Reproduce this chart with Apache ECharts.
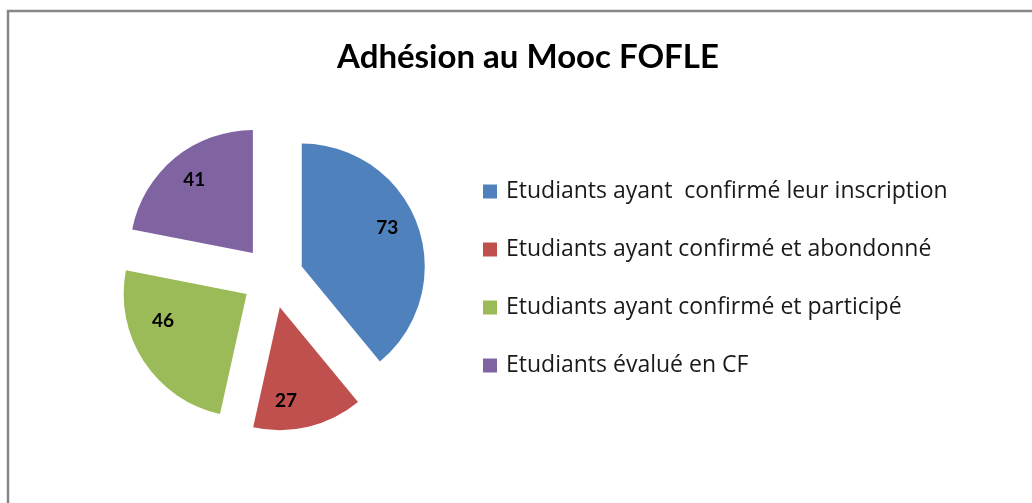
<!DOCTYPE html>
<html>
<head>
<meta charset="utf-8">
<style>
  html, body { margin: 0; padding: 0; background: #ffffff; }
  #chart { width: 1032px; height: 503px; }
</style>
<script src="https://cdn.jsdelivr.net/npm/echarts@6/dist/echarts.min.js"></script>
</head>
<body>
<div id="chart"></div>
<script>
// Participation breakdown for the MOOC
const titleText = 'Adhésion au Mooc FOFLE';
const categories = [
  'Etudiants ayant  confirmé leur inscription',
  'Etudiants ayant confirmé et abondonné',
  'Etudiants ayant confirmé et participé',
  'Etudiants évalué en CF'
];
const values = [73, 27, 46, 41];
const colors = ['#4F81BD', '#C0504D', '#9BBB59', '#8064A2'];

// Layout settings for the exploded pie
const pieCenter = [272.6, 277];
const pieRadius = 123;
const explode = 31;
// Label placement per slice: fraction of the radius, and a small angular nudge (degrees)
const labelRadiusFrac = [0.74, 0.74, 0.69, 0.74];
const labelAngleNudge = [-5, 10, 16, 1];

const total = values.reduce((a, b) => a + b, 0);
let acc = 0;
const seriesData = values.map((v, i) => {
  const start = acc / total * 360;
  acc += v;
  const mid = (start + acc / total * 360) / 2;
  // An inside label sits at half the radius on the bisector; shift the text
  // from there: sideways with padding, up/down with blank extra lines
  const a0 = mid * Math.PI / 180;
  const a1 = (mid + labelAngleNudge[i]) * Math.PI / 180;
  const tr = pieRadius * labelRadiusFrac[i];
  const br = pieRadius / 2;
  const dx = tr * Math.sin(a1) - br * Math.sin(a0);
  const dy = -tr * Math.cos(a1) + br * Math.cos(a0);
  const k = Math.max(1, Math.ceil(2 * Math.abs(dy) / 20));
  const lh = 2 * Math.abs(dy) / k;
  const blank = new Array(k).fill(' ').join('\n');
  return {
    name: categories[i],
    value: v,
    selected: true,
    itemStyle: { color: colors[i] },
    label: {
      padding: [0, dx < 0 ? -2 * dx : 0, 0, dx > 0 ? 2 * dx : 0],
      lineHeight: lh,
      formatter: dy < 0 ? '{c}\n' + blank : blank + '\n{c}'
    }
  };
});

const chart = echarts.init(document.getElementById('chart'), null, { renderer: 'canvas' });
chart.setOption({
  animation: false,
  backgroundColor: '#ffffff',
  graphic: [{
    type: 'rect',
    shape: { x: 8, y: 11, width: 1200, height: 700 },
    style: { fill: 'none', stroke: '#878787', lineWidth: 2.5 },
    silent: true,
    z: 0
  }],
  title: {
    text: titleText,
    left: 523,
    textAlign: 'center',
    top: 36,
    textStyle: {
      fontFamily: 'Lato',
      fontWeight: 'bold',
      fontSize: 33,
      color: '#000000'
    }
  },
  legend: {
    orient: 'vertical',
    left: 483,
    top: 180,
    padding: 0,
    itemWidth: 14,
    itemHeight: 14,
    itemGap: 35,
    icon: 'rect',
    selectedMode: false,
    data: categories,
    textStyle: {
      fontFamily: 'Open Sans',
      fontSize: 23,
      lineHeight: 23,
      color: '#1a1a1a',
      padding: [0, 0, 0, 4]
    }
  },
  series: [{
    type: 'pie',
    center: pieCenter,
    radius: pieRadius,
    startAngle: 90,
    clockwise: true,
    selectedMode: 'multiple',
    selectedOffset: explode,
    avoidLabelOverlap: false,
    emphasis: { disabled: true },
    label: {
      show: true,
      position: 'inside',
      fontFamily: 'Lato',
      fontWeight: 'bold',
      fontSize: 19,
      color: '#000000'
    },
    labelLine: { show: false },
    itemStyle: { borderWidth: 0 },
    data: seriesData
  }]
});
</script>
</body>
</html>
